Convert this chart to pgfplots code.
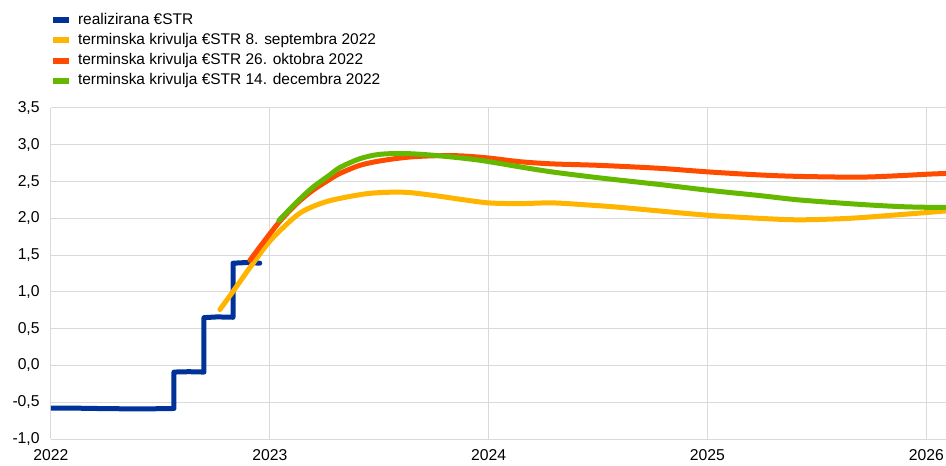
\documentclass[border=0pt]{standalone}
\usepackage{pgfplots}
\pgfplotsset{compat=1.18}
\usepackage{fontspec}
\setmainfont{Liberation Sans}
\definecolor{ecbblue}{HTML}{003299}
\definecolor{ecbyellow}{HTML}{FFB400}
\definecolor{ecborange}{HTML}{FF4B00}
\definecolor{ecbgreen}{HTML}{65B800}
\definecolor{gridgray}{HTML}{D9D9D9}
\begin{document}
\begin{tikzpicture}
\begin{axis}[
  scale only axis, width=671.25pt, height=248.25pt,
  xmin=2022, xmax=2026.09, ymin=-1, ymax=3.5,
  xtick={2022,2023,2024,2025,2026},
  ytick={-1,-0.5,0,0.5,1,1.5,2,2.5,3,3.5},
  grid=major, grid style={color=gridgray, line width=0.75pt},
  axis line style={draw=none}, tick style={draw=none},
  font=\fontsize{11.8}{14}\selectfont,
  /pgf/number format/assume math mode=true,
  xticklabel style={/pgf/number format/1000 sep={}, yshift=-4pt},
  yticklabel style={xshift=-5pt, /pgf/number format/fixed, /pgf/number format/fixed zerofill,
    /pgf/number format/precision=1, /pgf/number format/use comma},
  legend style={at={(rel axis cs:-0.006,1.296)}, anchor=north west, draw=none, fill=none,
    font=\fontsize{11.6}{14}\selectfont, row sep=4.1pt,
    nodes={inner ysep=0pt, text height=8.5pt, text depth=2.5pt}},
  legend cell align=left,
  legend image code/.code={\draw[#1, line width=4.5pt, line cap=butt] (0pt,0pt) -- (12pt,0pt);
    \path (15pt,0pt);},
  every axis plot/.append style={line width=3.75pt, line cap=round, line join=round},
]
% realised ESTR
\addplot[ecbblue, sharp plot] coordinates {
 (2022.0,-0.58) (2022.1,-0.58) (2022.2,-0.585) (2022.35,-0.59) (2022.45,-0.59) (2022.562,-0.585)
 (2022.562,-0.09) (2022.63,-0.085) (2022.699,-0.09)
 (2022.699,0.65) (2022.76,0.66) (2022.832,0.655)
 (2022.832,1.39) (2022.9,1.40) (2022.954,1.39)
};
\addlegendentry{realizirana €STR}
% forward curve 8 Sep 2022
\addplot[ecbyellow, smooth] coordinates {
 (2022.772,0.76) (2022.840,1.04) (2022.909,1.33) (2023.003,1.70) (2023.123,2.04)
 (2023.196,2.16) (2023.274,2.24) (2023.37,2.30) (2023.457,2.34) (2023.55,2.355)
 (2023.64,2.35) (2023.776,2.30) (2023.868,2.26) (2024.0,2.21) (2024.142,2.20)
 (2024.292,2.21) (2024.461,2.18) (2024.598,2.15) (2024.781,2.10) (2025.009,2.04)
 (2025.237,2.00) (2025.42,1.98) (2025.648,2.00) (2025.877,2.05) (2026.005,2.08)
 (2026.087,2.10)
};
\addlegendentry{terminska krivulja €STR 8. septembra 2022}
% forward curve 26 Oct 2022
\addplot[ecborange, smooth] coordinates {
 (2022.909,1.43) (2022.977,1.70) (2023.046,1.96) (2023.123,2.20) (2023.196,2.38)
 (2023.274,2.53) (2023.32,2.61) (2023.411,2.72) (2023.502,2.78) (2023.626,2.83)
 (2023.744,2.85) (2023.868,2.85) (2024.0,2.82) (2024.142,2.77) (2024.292,2.74)
 (2024.507,2.72) (2024.781,2.68) (2025.009,2.63) (2025.237,2.59) (2025.42,2.57)
 (2025.694,2.56) (2025.877,2.58) (2026.005,2.60) (2026.087,2.61)
};
\addlegendentry{terminska krivulja €STR 26. oktobra 2022}
% forward curve 14 Dec 2022
\addplot[ecbgreen, smooth] coordinates {
 (2023.041,1.97) (2023.123,2.22) (2023.196,2.42) (2023.274,2.59) (2023.32,2.69)
 (2023.411,2.81) (2023.502,2.87) (2023.626,2.88) (2023.776,2.85) (2023.959,2.79)
 (2024.142,2.70) (2024.292,2.63) (2024.507,2.55) (2024.781,2.46) (2025.009,2.38)
 (2025.237,2.31) (2025.42,2.25) (2025.694,2.19) (2025.877,2.16) (2026.005,2.15)
 (2026.087,2.15)
};
\addlegendentry{terminska krivulja €STR 14. decembra 2022}
\end{axis}
\pgfresetboundingbox
\path (-38.25pt,-19.5pt) rectangle (671.25pt,329.25pt);
\end{tikzpicture}
\end{document}
